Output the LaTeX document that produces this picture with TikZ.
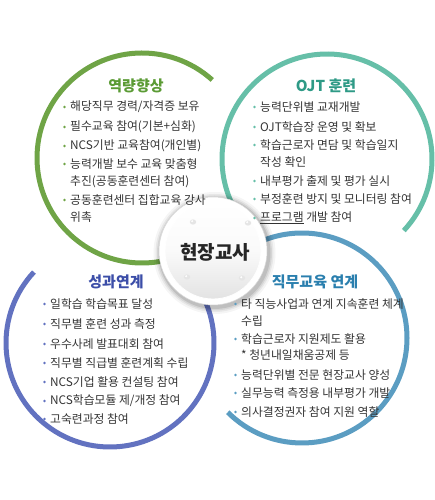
\documentclass[tikz,border=0pt]{standalone}
\usepackage{fontspec}
\setmainfont{Noto Sans CJK KR}
\definecolor{cGreen}{HTML}{6FA446}
\definecolor{cTeal}{HTML}{66BFA8}
\definecolor{cPurple}{HTML}{6272C0}
\definecolor{cSteel}{HTML}{5B9DC2}
\definecolor{tGreen}{HTML}{5B9B35}
\definecolor{tTeal}{HTML}{2E9A86}
\definecolor{tPurple}{HTML}{3C4EA8}
\definecolor{tSteel}{HTML}{2A7FAE}
\definecolor{bodytext}{HTML}{333333}
\tikzset{
  ring/.style={line width=5pt},
  ttl/.style={font=\fontsize{15}{18}\selectfont\bfseries, inner sep=0pt},
  itm/.style={font=\fontsize{11.8}{14}\selectfont, text=bodytext, anchor=west, inner sep=0pt},
  dotmark/.style={circle, inner sep=0pt, minimum size=2.6pt},
}
\begin{document}
\begin{tikzpicture}[x=1pt,y=1pt]
\useasboundingbox (0,0) rectangle (435,500);
% rings
\draw[ring, cGreen]  (142,342) ++(48:105) arc[start angle=48, end angle=300, radius=105];
\draw[ring, cTeal]   (327,341) ++(-43:105) arc[start angle=-43, end angle=215, radius=105];
\draw[ring, cPurple] (110,157) ++(137:104) arc[start angle=137, end angle=395, radius=104];
\draw[ring, cSteel]  (302,162) ++(-135:105) arc[start angle=-135, end angle=120, radius=105];
% soft shadow of the center disc
\foreach \r/\o in {61/0.04, 59/0.06, 57.5/0.08, 56/0.10}
  \fill[black, opacity=\o] (214.5,247) circle[radius=\r];
% center disc
\node[circle, minimum size=108pt, inner sep=0pt, fill=white, draw=gray!30, line width=0.5pt] (hub) at (213,249) {};
\shade[top color=white, bottom color=gray!22, middle color=gray!4, draw=white, line width=0.8pt] (213,249) circle[radius=48];
\node[font=\fontsize{19}{22}\selectfont\bfseries, text=black!85, inner sep=0pt] (hubtxt) at (215,248) {현장교사};
\foreach \p/\n in {{(193,278)}/d1, {(248,277)}/d2, {(187,223)}/d3, {(242,222)}/d4}
  {\fill[gray!20] \p ellipse[x radius=3.2, y radius=2.6];
   \fill[white] \p ++(-0.8,0.8) circle[radius=1.1];}
% titles
\node[ttl, text=tGreen]  (t1) at (136,414) {역량향상};
\node[ttl, text=tTeal]   (t2) at (326,414) {OJT 훈련};
\node[ttl, text=tPurple] (t3) at (116,218) {성과연계};
\node[ttl, text=tSteel]  (t4) at (315,218) {직무교육 연계};
% group 1
\foreach \y/\t [count=\i] in {393/{해당직무 경력/자격증 보유}, 373/{필수교육 참여(기본+심화)}, 354/{NCS기반 교육참여(개인별)}, 336/{능력개발 보수 교육 맞춤형}, 300/{공동훈련센터 집합교육 강사}}
  {\node[dotmark, fill=cGreen] (ga\i) at (64.5,\y) {}; \node[itm] (g\i) at (70,\y) {\t};}
\node[itm] (g4b) at (70,318) {추진(공동훈련센터 참여)};
\node[itm] (g5b) at (70,283) {위촉};
% group 2
\foreach \y/\t [count=\i] in {393/{능력단위별 교재개발}, 373/{OJT학습장 운영 및 확보}, 355/{학습근로자 면담 및 학습일지}, 319/{내부평가 출제 및 평가 실시}, 301/{부정훈련 방지 및 모니터링 참여}, 282/{\underline{프로그램} 개발 참여}}
  {\node[dotmark, fill=cTeal] (ta\i) at (254.5,\y) {}; \node[itm] (o\i) at (260,\y) {\t};}
\node[itm] (o3b) at (260,338) {작성 확인};
% group 3
\foreach \y/\t [count=\i] in {196/{일학습 학습목표 달성}, 176/{직무별 훈련 성과 측정}, 156/{우수사례 발표대회 참여}, 137/{직무별 직급별 훈련계획 수립}, 118/{NCS기업 활용 컨설팅 참여}, 99/{NCS학습모듈 제/개정 참여}, 81/{고숙련과정 참여}}
  {\node[dotmark, fill=cPurple] (pa\i) at (44.5,\y) {}; \node[itm] (p\i) at (50,\y) {\t};}
% group 4
\foreach \y/\t [count=\i] in {196/{타 직능사업과 연계 지속훈련 체계}, 161/{학습근로자 지원제도 활용}, 125/{능력단위별 전문 현장교사 양성}, 107/{실무능력 측정용 내부평가 개발}, 88/{의사결정권자 참여 지원 역할}}
  {\node[dotmark, fill=cSteel] (sa\i) at (235.5,\y) {}; \node[itm] (s\i) at (241,\y) {\t};}
\node[itm] (s1b) at (241,179) {수립};
\node[itm] (s2b) at (241,145) {* 청년내일채움공제 등};
\end{tikzpicture}
\end{document}
